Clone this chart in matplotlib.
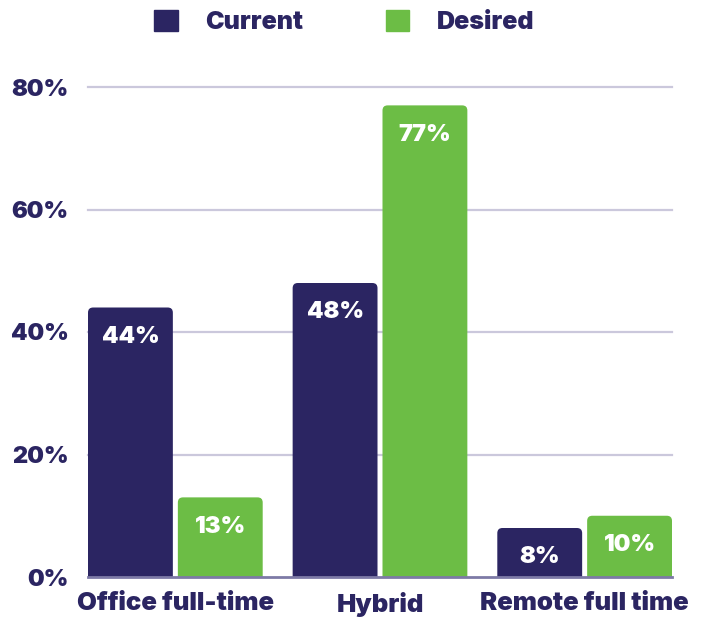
import matplotlib.pyplot as plt
from matplotlib.patches import FancyBboxPatch, Patch

categories = ["Office full-time", "Hybrid", "Remote full time"]
current = [44, 48, 8]
desired = [13, 77, 10]
yticks = [0, 20, 40, 60, 80]

NAVY = "#2b2562"
GREEN = "#6cbd45"
GRID = "#cbc8dc"

plt.rcParams['font.family'] = ['Inter', 'DejaVu Sans']
plt.rcParams['font.weight'] = 'black'

fig = plt.figure(figsize=(7.08, 6.19), dpi=100)
ax = fig.add_axes([88 / 708, 42 / 619, 584 / 708, 490 / 619])

w = 85 / 205
off = 45 / 205
x = range(len(categories))
bars_c = ax.bar([i - off for i in x], current, width=w, color=NAVY, zorder=3)
bars_d = ax.bar([i + off for i in x], desired, width=w, color=GREEN, zorder=3)

# закругляем верхние углы столбцов
aspect = 205 / 6.125
for bars in (bars_c, bars_d):
    for b in bars:
        b.set_visible(False)
        p = FancyBboxPatch((b.get_x(), -3), b.get_width(), b.get_height() + 3,
                           boxstyle="round,pad=0,rounding_size=0.025",
                           mutation_aspect=aspect, facecolor=b.get_facecolor(),
                           edgecolor="none", zorder=3)
        ax.add_patch(p)
        ax.annotate(f"{b.get_height():.0f}%", (b.get_x() + b.get_width() / 2, b.get_height()),
                    xytext=(0, -21), textcoords="offset points", ha="center", va="center",
                    color="white", fontsize=17, fontweight="black", zorder=4)

ax.set_xlim(-off - w / 2, 2 + off + w / 2)
ax.set_ylim(0, 80)
ax.set_yticks(yticks)
ax.set_yticklabels([f"{t}%" for t in yticks])
ax.set_xticks(list(x))
ax.set_xticklabels(categories)
ax.tick_params(length=0, labelsize=17, labelcolor=NAVY)
ax.tick_params(axis="x", labelsize=18.5, pad=11)
ax.tick_params(axis="y", pad=14)
for lbl in ax.get_xticklabels() + ax.get_yticklabels():
    lbl.set_fontweight("black")

for t in yticks[1:]:
    ax.axhline(t, color=GRID, lw=1.6, zorder=1, clip_on=False)
ax.axhline(0, color="#7d7aa6", lw=2, zorder=4, clip_on=False)
for s in ax.spines.values():
    s.set_visible(False)

handles = [Patch(color=NAVY), Patch(color=GREEN)]
leg = fig.legend(handles, ["Current", "Desired"], loc="center", bbox_to_anchor=(344 / 708, 1 - 22 / 619),
                 ncol=2, frameon=False, fontsize=18, handlelength=0.95, handleheight=0.95,
                 handletextpad=1.1, columnspacing=3.3)
for t in leg.get_texts():
    t.set_color(NAVY)
    t.set_fontweight("black")

fig.savefig("out.png", dpi=100)
